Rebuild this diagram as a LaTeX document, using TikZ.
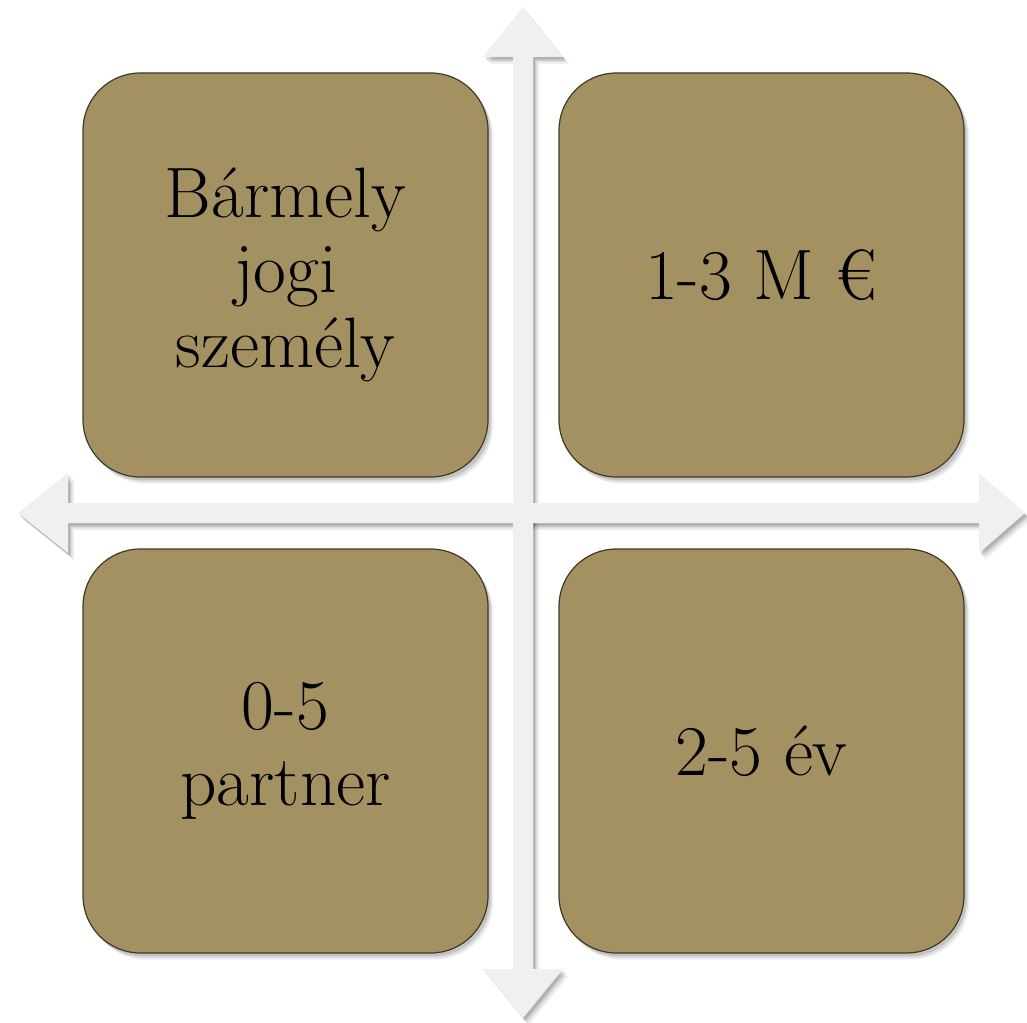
\documentclass[tikz,border=0pt]{standalone}
\usepackage{fontspec}
\definecolor{boxfill}{HTML}{A39162}
\definecolor{boxline}{HTML}{403925}
\definecolor{arrowfill}{HTML}{F0F0F0}
\newcommand\boxfont{\fontsize{53.5}{56.5}\selectfont}
\tikzset{
  quad/.style={rectangle, rounded corners=43pt, minimum width=303.75pt, minimum height=303pt,
    fill=boxfill, draw=boxline, line width=0.9pt, align=center, font=\boxfont, inner sep=0pt,
    preaction={fill=black, opacity=0.05, transform canvas={xshift=4pt, yshift=-5pt}},
    preaction={fill=black, opacity=0.08, transform canvas={xshift=3pt, yshift=-4pt}},
    preaction={fill=black, opacity=0.12, transform canvas={xshift=2pt, yshift=-2.5pt}}},
  arrowshape/.style={fill=arrowfill},
}
\begin{document}
\begin{tikzpicture}[x=0.75pt,y=-0.75pt]
\useasboundingbox (0,0) rectangle (1027,1023);
\fill[white] (0,0) rectangle (1027,1023);
% arrow shadows
\foreach \dx/\dy/\op in {6/7/0.05, 4.5/5.5/0.07, 3/4/0.09, 2/2.5/0.12}{
  \begin{scope}[shift={(\dx,\dy)}]
    \fill[black, opacity=\op] (513,57) -- (483,57) -- (523,7) -- (563,57) -- (533,57) -- (533,969) -- (563,969) -- (523,1018) -- (483,969) -- (513,969) -- cycle;
    \fill[black, opacity=\op] (68,503) -- (68,473) -- (18,513) -- (68,553) -- (68,523) -- (979,523) -- (979,553) -- (1025,513) -- (979,473) -- (979,503) -- cycle;
  \end{scope}
}
% arrows
\fill[arrowshape] (513,57) -- (483,57) -- (523,7) -- (563,57) -- (533,57) -- (533,969) -- (563,969) -- (523,1018) -- (483,969) -- (513,969) -- cycle;
\fill[arrowshape] (68,503) -- (68,473) -- (18,513) -- (68,553) -- (68,523) -- (979,523) -- (979,553) -- (1025,513) -- (979,473) -- (979,503) -- cycle;
% boxes
\node[quad] (tl) at (285.5,275) {Bármely\\jogi\\személy};
\node[quad] (tr) at (761.5,275) {1-3 M €};
\node[quad] (bl) at (285.5,751) {0-5\\partner};
\node[quad] (br) at (761.5,751) {2-5 év};
\end{tikzpicture}
\end{document}
